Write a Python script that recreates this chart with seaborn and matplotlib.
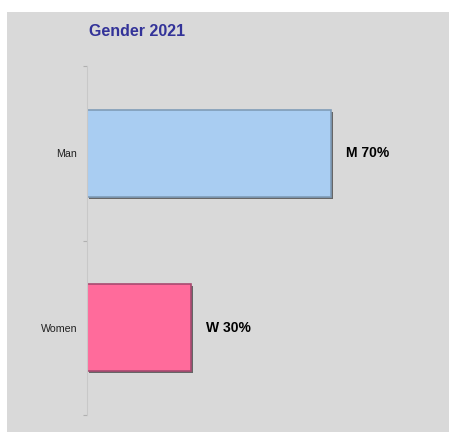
import matplotlib
matplotlib.use("Agg")
import matplotlib.pyplot as plt
import matplotlib.patheffects as pe
import seaborn as sns
import pandas as pd

# data
genders = ["Man", "Women"]
shares = [70, 30]
labels = ["M 70%", "W 30%"]
bar_colors = ["#a9cdf2", "#ff6b9b"]

df = pd.DataFrame({"gender": genders, "share": shares})

sns.set_style("white")
plt.rcParams["font.family"] = ["Liberation Sans", "DejaVu Sans"]

W, H = 449, 432
fig = plt.figure(figsize=(W / 100, H / 100), dpi=100, facecolor="white")
# grey chart area
fig.patches.append(plt.Rectangle((7 / W, 0), 1, 1 - 12 / H, transform=fig.transFigure,
                                 facecolor="#d9d9d9", edgecolor="none", zorder=-10))

ax = fig.add_axes([87 / W, 1 - 415 / H, 348 / W, (415 - 66) / H])
ax.set_facecolor("none")

sns.barplot(data=df, y="gender", x="share", hue="gender", palette=bar_colors,
            orient="h", width=0.5, saturation=1, legend=False, ax=ax)

# bevel-ish look: darker edge plus a drop shadow
edge = ["#7f9cb8", "#a84a70"]
for p, ec in zip(ax.patches, edge):
    p.set_edgecolor(ec)
    p.set_linewidth(1.2)
    p.set_path_effects([pe.SimplePatchShadow(offset=(1.5, -1.5), shadow_rgbFace="#4a4a4a", alpha=0.8),
                        pe.Normal()])

for i, (v, lab) in enumerate(zip(shares, labels)):
    ax.text(v + 4.3, i, lab, va="center", ha="left", fontsize=10, fontweight="bold", color="black")

ax.set_xlim(0, 100)
ax.set_ylim(1.5, -0.5)
ax.set_xlabel("")
ax.set_ylabel("")
ax.set_xticks([])
ax.set_yticks([-0.5, 0.5, 1.5], minor=False)
ax.set_yticklabels([])
ax.set_yticks([0, 1], minor=True)
ax.set_yticklabels(genders, minor=True, fontsize=7.7, color="#222222")
ax.tick_params(axis="y", which="major", length=3, color="#b0b0b0", width=0.8, left=True)
ax.tick_params(axis="y", which="minor", length=0, pad=7)

for s in ["top", "right", "bottom"]:
    ax.spines[s].set_visible(False)
ax.spines["left"].set_color("#c8c8c8")
ax.spines["left"].set_linewidth(0.8)

fig.text(89 / W, 1 - 31 / H, "Gender 2021", fontsize=11.5, fontweight="bold",
         color="#333399", ha="left", va="center")

fig.savefig("out.png", dpi=100)
